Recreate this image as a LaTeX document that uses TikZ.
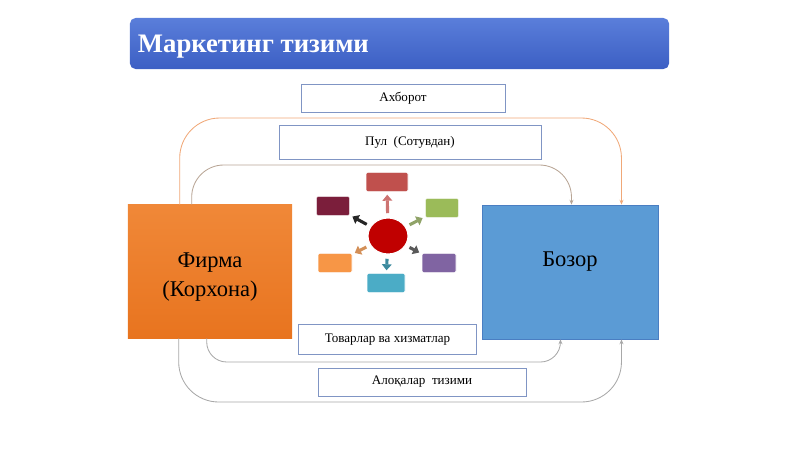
\documentclass[tikz,border=0pt]{standalone}
\usepackage{fontspec}
\setmainfont{Liberation Serif}
\usepackage{xcolor}
\usetikzlibrary{arrows.meta,positioning,calc,shapes.geometric}
\definecolor{barTop}{HTML}{5A7EDA}
\definecolor{barBot}{HTML}{3C5FC4}
\definecolor{boxLine}{HTML}{8095C4}
\definecolor{firmLt}{HTML}{F08838}
\definecolor{firmOr}{HTML}{E8741F}
\definecolor{mktBlue}{HTML}{5B9BD5}
\definecolor{mktLine}{HTML}{4A7EC2}
\definecolor{loopOr}{HTML}{F0A878}
\definecolor{loopBr}{HTML}{B8A595}
\definecolor{loopGr}{HTML}{A8A8A8}
\definecolor{hubRed}{HTML}{C00000}
\definecolor{spRed}{HTML}{C0504D}
\definecolor{spMaroon}{HTML}{7B1E3B}
\definecolor{spGreen}{HTML}{9BBB59}
\definecolor{spOrange}{HTML}{F79646}
\definecolor{spPurple}{HTML}{8064A2}
\definecolor{spTeal}{HTML}{4BACC6}
\tikzset{
  titlebar/.style={rounded corners=4pt, top color=barTop, bottom color=barBot,
                   minimum width=13.475cm, minimum height=1.275cm},
  titletext/.style={anchor=west, text=white, inner sep=0pt,
                    font=\bfseries\fontsize{19}{22}\selectfont},
  flowbox/.style={draw=boxLine, fill=white, line width=0.6pt, inner sep=0pt,
                  font=\fontsize{9.3}{11}\selectfont},
  bigtext/.style={align=center, inner sep=0pt, font=\fontsize{16}{20}\selectfont},
  firmbox/.style={top color=firmLt, bottom color=firmOr,
                  minimum width=4.1cm, minimum height=3.33cm},
  marketbox/.style={fill=mktBlue, draw=mktLine, line width=0.6pt,
                    minimum width=4.38cm, minimum height=3.35cm},
  hub/.style={ellipse, fill=hubRed, draw=white, line width=0.8pt,
              minimum width=1cm, minimum height=0.9cm},
  spoke/.style={rounded corners=1pt, draw=white, minimum width=0.85cm,
                minimum height=0.48cm},
  spokearrow/.style={-{Triangle[length=1.5mm,width=2.4mm]}, line width=2.2pt,
                     shorten <=3pt, shorten >=2pt},
  loopline/.style={-{Stealth[length=1.2mm,width=1mm]}, line width=0.6pt}
}
\begin{document}
\begin{tikzpicture}[x=0.025cm,y=-0.025cm]
  \useasboundingbox (0,0) rectangle (800,449);
  % title
  \node[titlebar] (title) at (399.5,43.5) {};
  \node[titletext, right=0.2cm of title.west, yshift=-0.07cm] (titlelbl) {Маркетинг тизими};
  % flows
  \node[flowbox, minimum width=5.1cm, minimum height=0.7cm] (info) at (403,98) {Ахборот};
  \node[flowbox, minimum width=6.55cm, minimum height=0.85cm] (money) at (410,142) {Пул\ \ (Сотувдан)};
  \node[flowbox, minimum width=4.43cm, minimum height=0.73cm] (goods) at (387.5,339.5) {Товарлар ва хизматлар};
  \node[flowbox, minimum width=5.2cm, minimum height=0.7cm] (comm) at (422,382) {Алоқалар\ \ тизими};
  % firm and market
  \node[firmbox] (firm) at (210,271.5) {};
  \node[bigtext] (firmlbl) at (210,277) {Фирма\\(Корхона)};
  \node[marketbox] (market) at (570.5,272) {};
  \node[bigtext] (marketlbl) at (570,262) {Бозор};
  % loops
  \coordinate (otop) at (400,118);
  \coordinate (itop) at (400,165);
  \coordinate (ibot) at (400,362);
  \coordinate (obot) at (400,402);
  \draw[loopline, loopOr, rounded corners=1cm]
    ($(firm.north west)+(52,0)$) |- (otop) -| ($(market.north west)+(139,0)$);
  \draw[loopline, loopBr, rounded corners=0.8cm]
    ($(firm.north west)+(64,0)$) |- (itop) -| ($(market.north west)+(89,0)$);
  \draw[loopline, loopGr, rounded corners=0.5cm]
    ($(firm.south west)+(79,0)$) |- (ibot) -| ($(market.south west)+(78,0)$);
  \draw[loopline, loopGr, rounded corners=1cm]
    ($(firm.south west)+(51,0)$) |- (obot) -| ($(market.south west)+(139,0)$);
  % small radial picture
  \node[hub] (hub) at (388,236) {};
  \foreach \n/\c/\x/\y/\w in {sTop/spRed/387/182/1.05cm, sTl/spMaroon/333/206/0.83cm,
      sTr/spGreen/442/208/0.83cm, sBl/spOrange/335/263/0.85cm,
      sBr/spPurple/439/263/0.85cm, sBot/spTeal/386/283/0.95cm}
    \node[spoke, fill=\c, minimum width=\w] (\n) at (\x,\y) {};
  \foreach \n/\c in {sTop/spRed!80!white, sTl/black!85, sTr/spGreen!60!gray,
      sBl/spOrange!70!gray, sBr/black!65, sBot/spTeal!80!black}
    \draw[spokearrow, \c] (hub) -- (\n);
\end{tikzpicture}
\end{document}
